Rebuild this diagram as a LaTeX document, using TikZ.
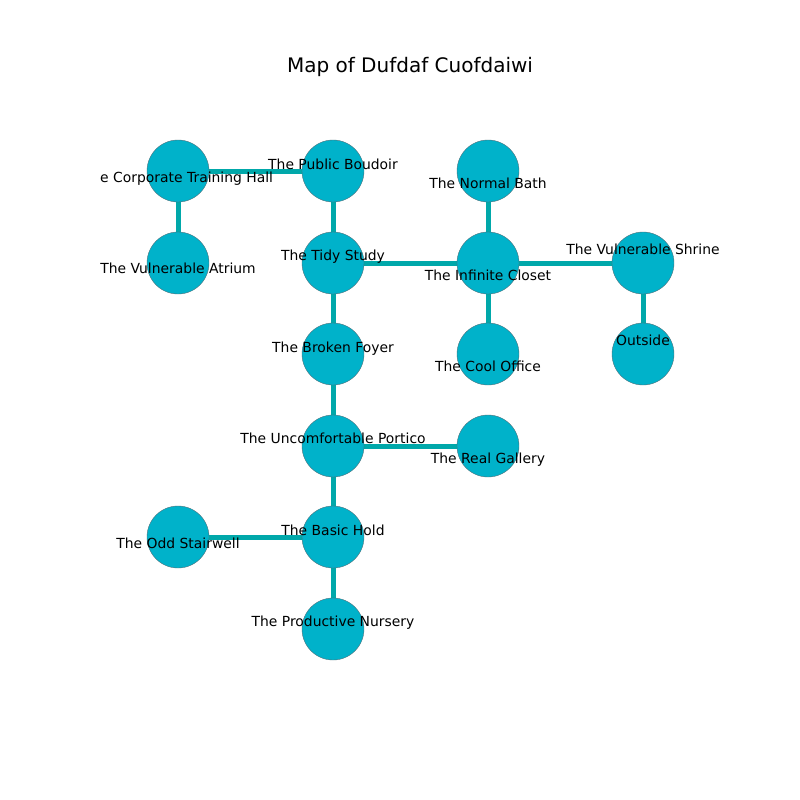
\documentclass[tikz,border=0pt]{standalone}
\usepackage{fontspec}
\setmainfont{DejaVu Sans}
\definecolor{nodefill}{RGB}{0,178,202}
\definecolor{edgecol}{RGB}{0,168,170}
\definecolor{nodeline}{RGB}{80,110,120}
\begin{document}
\begin{tikzpicture}[x=1pt,y=-1pt,
  room/.style={circle,fill=nodefill,draw=nodeline,line width=0.4pt,minimum size=62pt,inner sep=0pt},
  link/.style={draw=edgecol,line width=5pt},
  lbl/.style={anchor=base,inner sep=0pt,font=\fontsize{13.9}{16}\selectfont}]
\useasboundingbox (0,0) rectangle (800,800);
\node[anchor=base,inner sep=0pt,font=\fontsize{20}{24}\selectfont] (title) at (410,73) {Map of Dufdaf Cuofdaiwi};
\begin{scope}
\clip (100,96) rectangle (720,704);
% node positions
\coordinate (cth) at (178,171);
\coordinate (pb) at (333,171);
\coordinate (nb) at (488,171);
\coordinate (va) at (178,263);
\coordinate (ts) at (333,263);
\coordinate (ic) at (488,263);
\coordinate (vs) at (643,263);
\coordinate (bf) at (333,354);
\coordinate (co) at (488,354);
\coordinate (out) at (643,354);
\coordinate (up) at (333,446);
\coordinate (rg) at (488,446);
\coordinate (os) at (178,537);
\coordinate (bh) at (333,537);
\coordinate (pn) at (333,629);
% edges
\draw[link] (cth) -- (pb);
\draw[link] (cth) -- (va);
\draw[link] (pb) -- (ts);
\draw[link] (ts) -- (ic);
\draw[link] (nb) -- (ic);
\draw[link] (ic) -- (vs);
\draw[link] (ic) -- (co);
\draw[link] (vs) -- (out);
\draw[link] (ts) -- (bf);
\draw[link] (bf) -- (up);
\draw[link] (up) -- (rg);
\draw[link] (up) -- (bh);
\draw[link] (bh) -- (os);
\draw[link] (bh) -- (pn);
% circles
\foreach \n in {cth,pb,nb,va,ts,ic,vs,bf,co,out,up,rg,os,bh,pn}
  \node[room] (c\n) at (\n) {};
% labels
\node[lbl] (lcth) at ([yshift=-11]cth) {The Corporate Training Hall};
\node[lbl] (lpb) at ([yshift=2]pb) {The Public Boudoir};
\node[lbl] (lnb) at ([yshift=-17]nb) {The Normal Bath};
\node[lbl] (lva) at ([yshift=-10]va) {The Vulnerable Atrium};
\node[lbl] (lts) at ([yshift=3]ts) {The Tidy Study};
\node[lbl] (lic) at ([yshift=-17]ic) {The Infinite Closet};
\node[lbl] (lvs) at ([yshift=9]vs) {The Vulnerable Shrine};
\node[lbl] (lbf) at ([yshift=2]bf) {The Broken Foyer};
\node[lbl] (lco) at ([yshift=-17]co) {The Cool Office};
\node[lbl] (lout) at ([yshift=9]out) {Outside};
\node[lbl] (lup) at ([yshift=3]up) {The Uncomfortable Portico};
\node[lbl] (lrg) at ([yshift=-17]rg) {The Real Gallery};
\node[lbl] (los) at ([yshift=-11]os) {The Odd Stairwell};
\node[lbl] (lbh) at ([yshift=2]bh) {The Basic Hold};
\node[lbl] (lpn) at ([yshift=3]pn) {The Productive Nursery};
\end{scope}
\end{tikzpicture}
\end{document}
